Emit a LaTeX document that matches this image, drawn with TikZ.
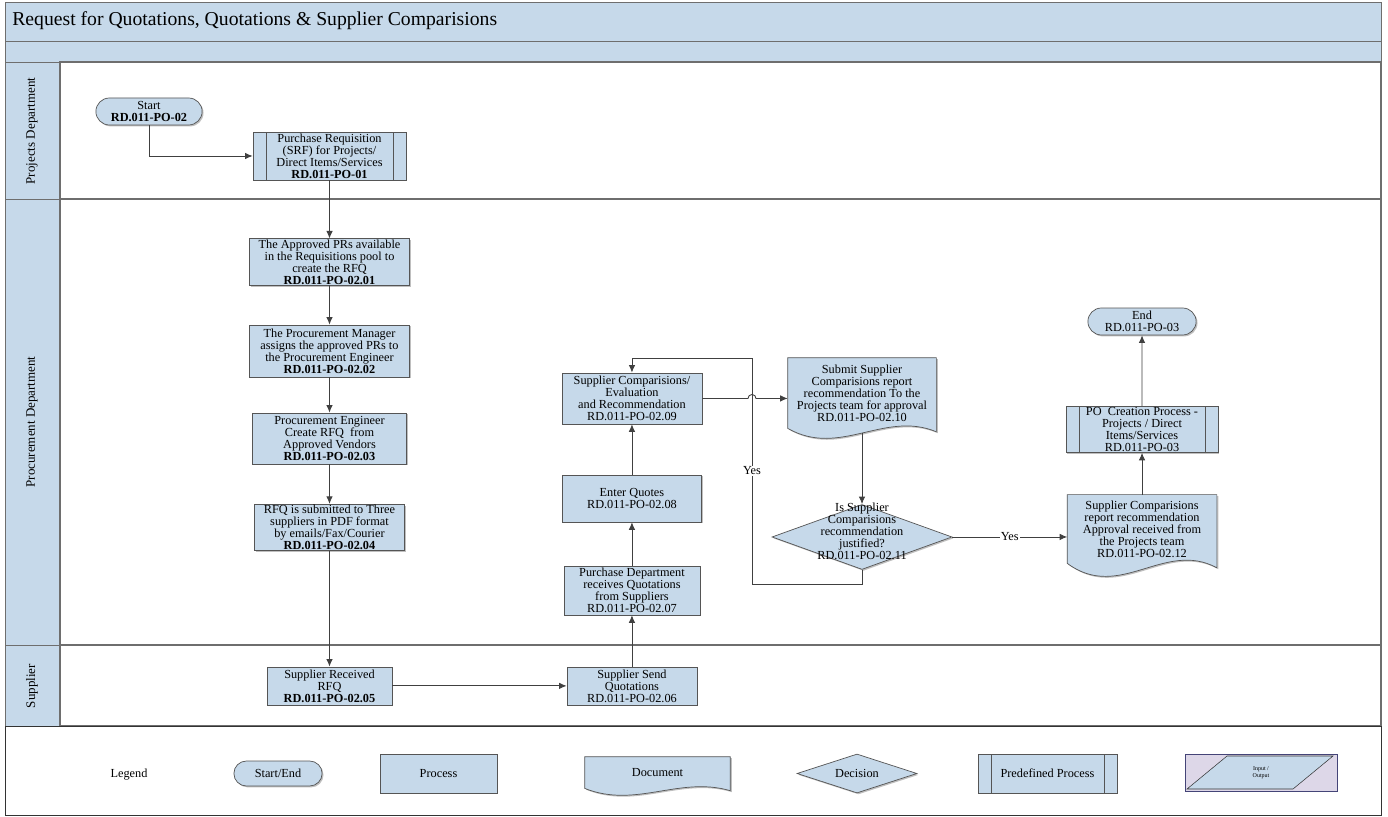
\documentclass[tikz,border=0pt]{standalone}
\usepackage{fontspec}
\setmainfont{Liberation Serif}
\usepackage{tikz}
\usetikzlibrary{shapes.geometric,shapes.misc,arrows.meta,shadows,calc,positioning}

\definecolor{boxblue}{RGB}{198,217,234}
\definecolor{edgegray}{RGB}{85,85,85}
\definecolor{lanegray}{RGB}{110,110,110}
\definecolor{iolav}{RGB}{221,215,232}

\pgfdeclarelayer{lanes}
\pgfdeclarelayer{docs}
\pgfsetlayers{lanes,docs,main}

\tikzset{
  boxtext/.style={font=\fontsize{7}{6.8}\selectfont, align=center, text=black},
  softshadow/.style={drop shadow={shadow xshift=0.8pt, shadow yshift=-0.8pt, opacity=0.25, fill=black}},
  process/.style={rectangle, draw=edgegray, fill=boxblue, boxtext, inner sep=0.5pt, softshadow},
  terminal/.style={rounded rectangle, draw=edgegray, fill=boxblue, boxtext, inner sep=0.5pt, softshadow},
  predef/.style={process, path picture={
      \draw[edgegray] ([xshift=0.26cm]path picture bounding box.north west) -- ([xshift=0.26cm]path picture bounding box.south west)
                      ([xshift=-0.26cm]path picture bounding box.north east) -- ([xshift=-0.26cm]path picture bounding box.south east);}},
  docnode/.style={rectangle, draw=none, boxtext, inner sep=0.5pt},
  decision/.style={diamond, draw=edgegray, fill=boxblue, inner sep=0pt, softshadow},
  flow/.style={->, draw=black!75, line width=0.5pt},
  yeslbl/.style={fill=white, inner sep=0.6pt, font=\fontsize{7}{7}\selectfont},
  lanetext/.style={rotate=90, font=\fontsize{7.4}{8}\selectfont},
}

% document outline drawn under the node text
\newcommand{\docshape}[2]{%
  \begin{pgfonlayer}{docs}
  \draw[draw=edgegray, fill=boxblue, softshadow]
    (#1.north west) -- (#1.north east) -- ([yshift={-0.3*#2}]#1.south east)
    .. controls ($(#1.south west)!0.65!(#1.south east)+(0,{1.6*#2})$) and ($(#1.south west)!0.35!(#1.south east)+(0,{-2.6*#2})$) .. (#1.south west) -- cycle;
  \end{pgfonlayer}}

\begin{document}
\begin{tikzpicture}[x=0.02cm, y=-0.02cm, >={Latex[length=1.5mm,width=1.3mm]}]

\useasboundingbox (0,0) rectangle (1388,817);

\begin{pgfonlayer}{lanes}
\fill[white] (5,2) rectangle (1381,815);
\draw[lanegray, fill=boxblue] (5,2) rectangle (1381,41);
\draw[lanegray, fill=boxblue] (5,41) rectangle (1381,62);
\draw[lanegray, fill=boxblue] (5,62) rectangle (60,199);
\draw[lanegray, fill=boxblue] (5,199) rectangle (60,645);
\draw[lanegray, fill=boxblue] (5,645) rectangle (60,726);
\draw[lanegray, line width=0.7pt] (60,62) rectangle (1381,199);
\draw[lanegray, line width=0.7pt] (60,199) rectangle (1381,645);
\draw[lanegray, line width=0.7pt] (60,645) rectangle (1381,726);
\draw[black!80] (5,726) rectangle (1381,815);
\end{pgfonlayer}

\node[anchor=west, inner sep=0pt, font=\fontsize{11.2}{13}\selectfont] (title) at (12,21) {Request for Quotations, Quotations \& Supplier Comparisions};

\node[lanetext] (projlane) at (32,131) {Projects Department};
\node[lanetext] (proclane) at (32,422) {Procurement Department};
\node[lanetext] (supplane) at (32,686) {Supplier};

\node[terminal, minimum width=2.16cm, minimum height=0.54cm] (start) at (149,111.5) {Start\\\textbf{RD.011-PO-02}};
\node[predef, minimum width=3.06cm, minimum height=0.96cm] (srf) at (329.5,156) {Purchase Requisition\\(SRF) for Projects/\\Direct Items/Services\\\textbf{RD.011-PO-01}};

\node[process, minimum width=3.2cm, minimum height=0.92cm] (pool) [below of=srf, node distance=2.12cm] {The Approved PRs available\\in the Requisitions pool to\\create the RFQ\\\textbf{RD.011-PO-02.01}};
\node[process, minimum width=3.2cm, minimum height=1.04cm] (assign) [below of=pool, node distance=1.78cm] {The Procurement Manager\\assigns the approved PRs to\\the Procurement Engineer\\\textbf{RD.011-PO-02.02}};
\node[process, minimum width=3.08cm, minimum height=1.02cm] (create) [below of=assign, node distance=1.75cm] {Procurement Engineer\\Create RFQ\ \ from\\Approved Vendors\\\textbf{RD.011-PO-02.03}};
\node[process, minimum width=3.0cm, minimum height=0.9cm] (submit) [below of=create, node distance=1.78cm] {RFQ is submitted to Three\\suppliers in PDF format\\by emails/Fax/Courier\\\textbf{RD.011-PO-02.04}};
\node[process, minimum width=2.5cm, minimum height=0.76cm] (recv) [below of=submit, node distance=3.17cm] {Supplier Received\\RFQ\\\textbf{RD.011-PO-02.05}};

\node[process, minimum width=2.6cm, minimum height=0.76cm] (send) [right of=recv, node distance=6.05cm] {Supplier Send\\Quotations\\RD.011-PO-02.06};
\node[process, minimum width=2.72cm, minimum height=0.98cm] (quotes) [above of=send, node distance=1.91cm] {Purchase Department\\receives Quotations\\from Suppliers\\RD.011-PO-02.07};
\node[process, minimum width=2.78cm, minimum height=0.94cm] (enter) [above of=quotes, node distance=1.84cm] {Enter Quotes\\RD.011-PO-02.08};
\node[process, minimum width=2.8cm, minimum height=1.02cm] (compare) [above of=enter, node distance=2.0cm] {Supplier Comparisions/\\Evaluation\\and Recommendation\\RD.011-PO-02.09};

\node[docnode, minimum width=2.96cm, minimum height=1.4cm] (report) at (862,393) {Submit Supplier\\Comparisions report\\recommendation To the\\Projects team for approval\\RD.011-PO-02.10};
\docshape{report}{6.5pt}
\node[decision, minimum width=3.6cm, minimum height=1.3cm,
      label={[boxtext, yshift=0.12cm]center:Is Supplier\\Comparisions\\recommendation\\justified?\\RD.011-PO-02.11}] (justify) [below of=report, node distance=2.88cm] {};

\node[terminal, minimum width=2.2cm, minimum height=0.54cm] (finish) at (1142,321.5) {End\\RD.011-PO-03};
\node[predef, minimum width=3.04cm, minimum height=0.9cm] (pocreate) [below of=finish, node distance=2.16cm] {PO\ \ Creation Process -\\Projects / Direct\\Items/Services\\RD.011-PO-03};
\node[docnode, minimum width=2.98cm, minimum height=1.36cm] (approval) [below of=pocreate, node distance=1.99cm] {Supplier Comparisions\\report recommendation\\Approval received from\\the Projects team\\RD.011-PO-02.12};
\docshape{approval}{8.5pt}

\coordinate (lp1) at (752,584);
\coordinate (lp2) at (752,358);

\draw[flow] (start.south) |- (srf.west);
\draw[flow] (srf) -- (pool);
\draw[flow] (pool) -- (assign);
\draw[flow] (assign) -- (create);
\draw[flow] (create) -- (submit);
\draw[flow] (submit) -- (recv);
\draw[flow] (recv) -- (send);
\draw[flow] (send) -- (quotes);
\draw[flow] (quotes) -- (enter);
\draw[flow] (enter) -- (compare);
\draw[flow] (compare.east) -- ($(compare.east -| lp1)+(-4,0)$) arc[start angle=180, end angle=0, radius=0.08cm] -- (compare.east -| report.west);
\draw[flow] ([yshift=-2.5pt]report.south) -- (justify.north);
\draw[flow] (justify.south) |- (lp1) -- node[yeslbl] (yesback) {Yes} (lp2) -| (compare.north);
\draw[flow] (justify.east) -- node[yeslbl] (yesgo) {Yes} (justify.east -| approval.west);
\draw[flow] (approval) -- (pocreate);
\draw[flow] (pocreate) -- (finish);

\node[boxtext] (legend) at (129,775) {Legend};
\node[terminal, minimum width=1.8cm, minimum height=0.5cm] (lgterm) at (278,773.5) {Start/End};
\node[process, minimum width=2.34cm, minimum height=0.78cm] (lgproc) at (438.5,773.5) {Process};
\node[docnode, minimum width=2.9cm, minimum height=0.62cm] (lgdoc) at (657.5,772.5) {Document};
\docshape{lgdoc}{4.5pt}
\node[decision, minimum width=2.4cm, minimum height=0.78cm, label={[boxtext]center:Decision}] (lgdec) at (857,773.5) {};
\node[predef, minimum width=2.78cm, minimum height=0.78cm] (lgpre) at (1047.5,773.5) {Predefined Process};
\node[rectangle, draw=edgegray!80!blue, fill=iolav, minimum width=3.04cm, minimum height=0.74cm, inner sep=0pt, softshadow,
      font=\fontsize{3.4}{3.8}\selectfont, align=center,
      path picture={
        \path[fill=boxblue, draw=black!80, line width=0.3pt]
          ([shift={(0.84cm,-0.04cm)}]path picture bounding box.north west) -- ([shift={(-0.08cm,-0.04cm)}]path picture bounding box.north east)
          -- ([shift={(-0.88cm,0.04cm)}]path picture bounding box.south east) -- ([shift={(0.04cm,0.04cm)}]path picture bounding box.south west) -- cycle;}] (lgio) at (1261,772.5) {Input /\\Output};

\end{tikzpicture}
\end{document}
